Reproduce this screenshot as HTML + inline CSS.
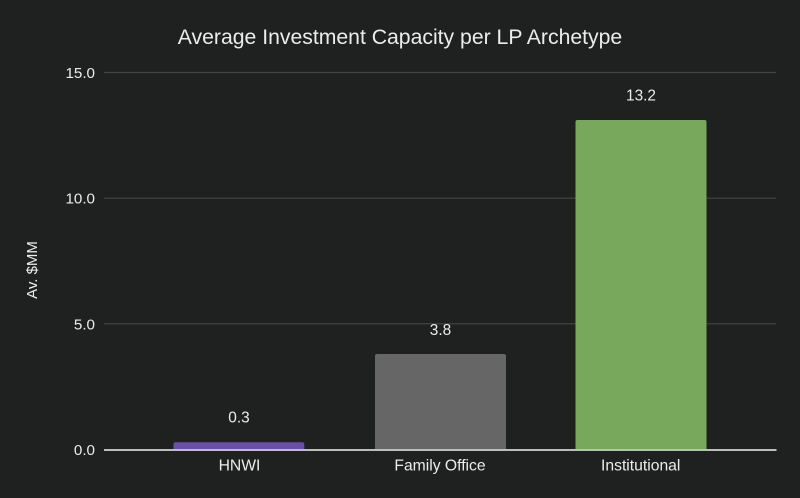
<!DOCTYPE html>
<html><head><meta charset="utf-8"><style>
html,body{margin:0;padding:0;background:#1f2020;}
svg{display:block;}
text{font-family:"Liberation Sans",Arial,sans-serif;fill:#ececec;}
</style></head><body>
<svg width="800" height="498" viewBox="0 0 800 498" xmlns="http://www.w3.org/2000/svg">
<rect width="800" height="498" fill="#1f2020"/>
<text x="400" y="44" font-size="21.2" text-anchor="middle">Average Investment Capacity per LP Archetype</text>
<g stroke="#454545" stroke-width="1.2">
<line x1="104" y1="72.5" x2="776" y2="72.5"/>
<line x1="104" y1="198.2" x2="776" y2="198.2"/>
<line x1="104" y1="323.8" x2="776" y2="323.8"/>
</g>
<g font-size="15.2" text-anchor="end">
<text x="95" y="78">15.0</text>
<text x="95" y="203.7">10.0</text>
<text x="95" y="329.3">5.0</text>
<text x="95" y="455">0.0</text>
</g>
<text transform="translate(37,270) rotate(-90)" font-size="15" text-anchor="middle">Av. $MM</text>
<path d="M173.5,450 V444.3 a2,2 0 0 1 2,-2 H302.3 a2,2 0 0 1 2,2 V450 Z" fill="#6a4fa8"/>
<path d="M375,450 V356 a2,2 0 0 1 2,-2 H504 a2,2 0 0 1 2,2 V450 Z" fill="#666666"/>
<path d="M575.5,450 V122 a2,2 0 0 1 2,-2 H704.5 a2,2 0 0 1 2,2 V450 Z" fill="#78a85b"/>
<line x1="104" y1="450" x2="776.5" y2="450" stroke="#bdbdbd" stroke-width="2"/>
<g font-size="15.4" text-anchor="middle">
<text x="239" y="422.7">0.3</text>
<text x="440.5" y="335">3.8</text>
<text x="641" y="100.7">13.2</text>
</g>
<g font-size="15.7" text-anchor="middle">
<text x="239.5" y="470.7">HNWI</text>
<text x="440" y="470.7">Family Office</text>
<text x="640.7" y="470.7">Institutional</text>
</g>
</svg>
</body></html>
